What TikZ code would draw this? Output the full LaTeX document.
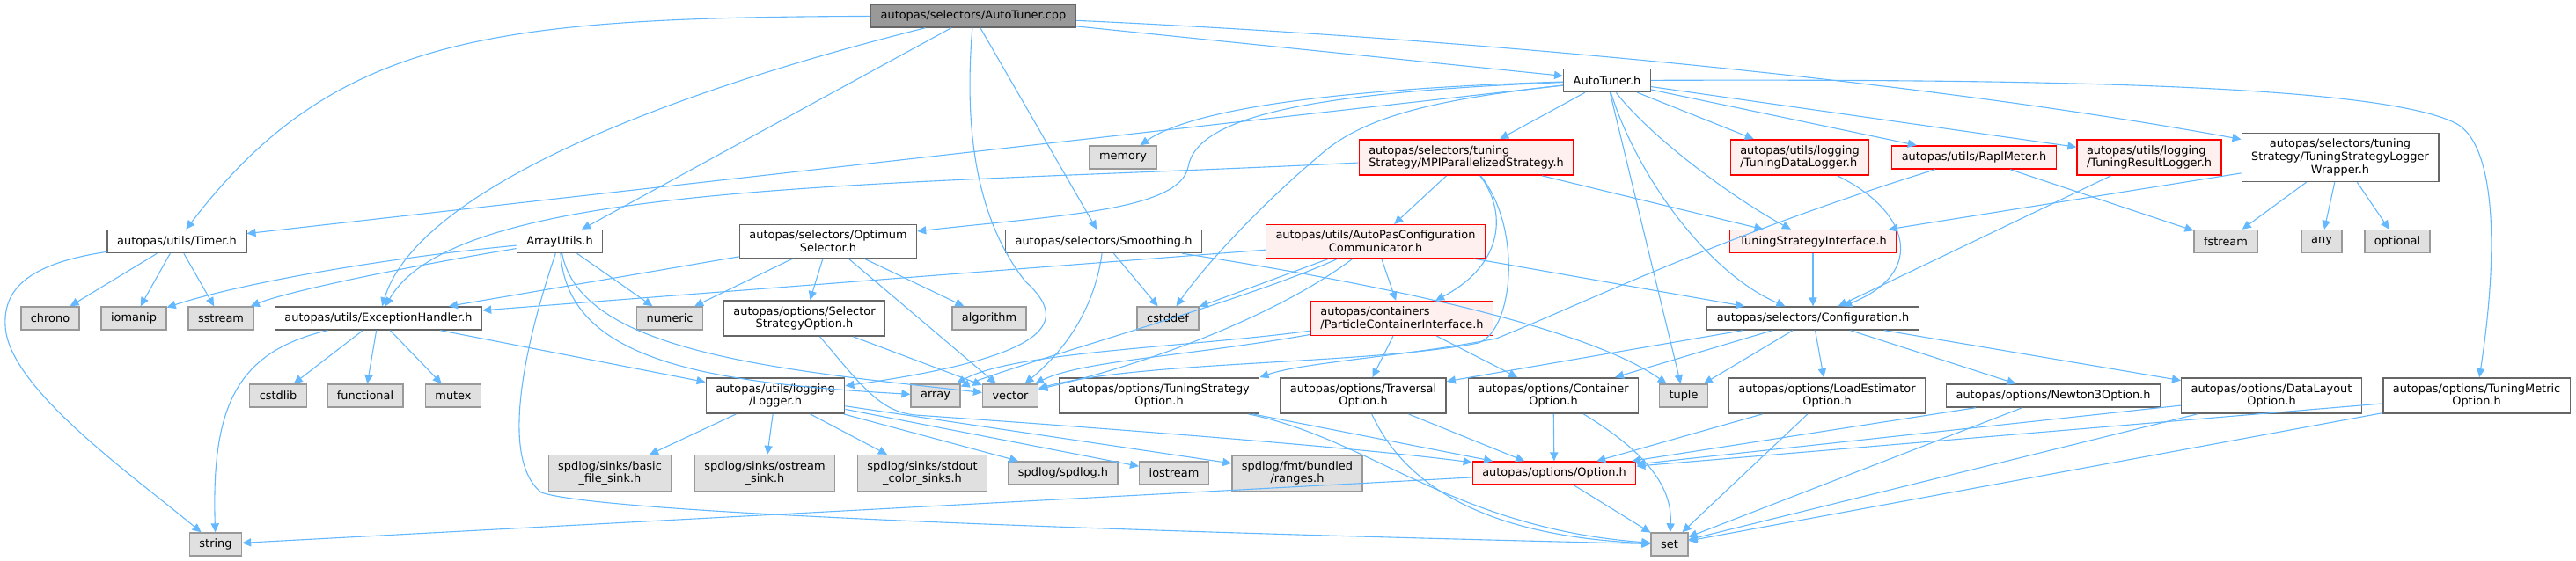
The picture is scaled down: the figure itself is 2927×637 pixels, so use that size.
\documentclass[tikz,border=0pt]{standalone}
\usepackage{fontspec}
\setmainfont{DejaVu Sans}
\usepackage{tikz}
\usetikzlibrary{arrows.meta}
\definecolor{incEdge}{HTML}{63B8FF}
\definecolor{incRoot}{HTML}{999999}
\definecolor{incLine}{HTML}{666666}
\definecolor{incSys}{HTML}{E0E0E0}
\definecolor{incSysLine}{HTML}{999999}
\definecolor{incTrunc}{HTML}{FFF0F0}
\definecolor{incTruncLine}{HTML}{FF0000}
\tikzset{
  hdr/.style={
    draw=incLine, fill=white, line width=0.7pt, inner xsep=5.5pt, inner ysep=3.3pt,
    minimum height=13pt, align=center, font=\fontsize{6.45pt}{7.35pt}\selectfont
  },
  rootfile/.style={hdr, fill=incRoot},
  syshdr/.style={hdr, fill=incSys, draw=incSysLine},
  trunchdr/.style={hdr, fill=incTrunc, draw=incTruncLine},
  inc/.style={-{Triangle[length=5pt, width=4.6pt]}, incEdge, line width=0.55pt}
}
\begin{document}
\begin{tikzpicture}[x=0.5pt, y=-0.5pt]
  \useasboundingbox (0,0) rectangle (2927,637);
  % top rows
  \node[rootfile] (cpp) at (1106,18) {autopas/selectors/AutoTuner.cpp};
  \node[hdr] (at) at (1826,91.5) {AutoTuner.h};
  \node[syshdr] (memory) at (1276,179) {memory};
  \node[trunchdr, align=left] (mpi) at (1666,179) {autopas/selectors/tuning\\Strategy/MPIParallelizedStrategy.h};
  \node[trunchdr, align=left] (tdl) at (2045,179) {autopas/utils/logging\\/TuningDataLogger.h};
  \node[trunchdr] (rapl) at (2243,179) {autopas/utils/RaplMeter.h};
  \node[trunchdr, align=left] (trl) at (2442,179) {autopas/utils/logging\\/TuningResultLogger.h};
  \node[hdr] (tslw) at (2659,179) {autopas/selectors/tuning\\Strategy/TuningStrategyLogger\\Wrapper.h};
  \node[hdr] (timer) at (201,274.5) {autopas/utils/Timer.h};
  \node[hdr] (arr) at (636,274.5) {ArrayUtils.h};
  \node[hdr] (opt) at (941,274.5) {autopas/selectors/Optimum\\Selector.h};
  \node[hdr] (smooth) at (1254,274.5) {autopas/selectors/Smoothing.h};
  \node[trunchdr] (comm) at (1563,274.5) {autopas/utils/AutoPasConfiguration\\Communicator.h};
  \node[trunchdr] (tsi) at (2060,274.5) {TuningStrategyInterface.h};
  \node[syshdr] (fstream) at (2529,274.5) {fstream};
  \node[syshdr] (any) at (2638,274.5) {any};
  \node[syshdr] (optional) at (2724,274.5) {optional};
  % middle rows
  \node[syshdr] (chrono) at (57,362) {chrono};
  \node[syshdr] (iomanip) at (152,362) {iomanip};
  \node[syshdr] (sstream) at (251,362) {sstream};
  \node[hdr] (exc) at (430,362) {autopas/utils/ExceptionHandler.h};
  \node[syshdr] (numeric) at (761,362) {numeric};
  \node[hdr] (sso) at (914,362) {autopas/options/Selector\\StrategyOption.h};
  \node[syshdr] (algorithm) at (1124,362) {algorithm};
  \node[syshdr] (cstddef) at (1327,362) {cstddef};
  \node[trunchdr, align=left] (pci) at (1593,362) {autopas/containers\\/ParticleContainerInterface.h};
  \node[hdr] (conf) at (2060,362) {autopas/selectors/Configuration.h};
  \node[syshdr] (cstdlib) at (316,450) {cstdlib};
  \node[syshdr] (functional) at (415,450) {functional};
  \node[syshdr] (mutex) at (515,450) {mutex};
  \node[hdr] (logger) at (881,450) {autopas/utils/logging\\/Logger.h};
  \node[syshdr] (array) at (1063,450) {array};
  \node[syshdr] (vector) at (1148,450) {vector};
  \node[hdr] (tso) at (1317,450) {autopas/options/TuningStrategy\\Option.h};
  \node[hdr] (tro) at (1549,450) {autopas/options/Traversal\\Option.h};
  \node[hdr] (co) at (1765,450) {autopas/options/Container\\Option.h};
  \node[syshdr] (tuple) at (1913,450) {tuple};
  \node[hdr] (leo) at (2076,450) {autopas/options/LoadEstimator\\Option.h};
  \node[hdr] (n3o) at (2333,450) {autopas/options/Newton3Option.h};
  \node[hdr] (dlo) at (2581,450) {autopas/options/DataLayout\\Option.h};
  \node[hdr] (tmo) at (2814,450) {autopas/options/TuningMetric\\Option.h};
  % bottom rows
  \node[syshdr] (bfs) at (693,538) {spdlog/sinks/basic\\\_file\_sink.h};
  \node[syshdr] (oss) at (869,538) {spdlog/sinks/ostream\\\_sink.h};
  \node[syshdr] (scs) at (1048,538) {spdlog/sinks/stdout\\\_color\_sinks.h};
  \node[syshdr] (spd) at (1208,538) {spdlog/spdlog.h};
  \node[syshdr] (ios) at (1334,538) {iostream};
  \node[syshdr] (rng) at (1474,538) {spdlog/fmt/bundled\\/ranges.h};
  \node[trunchdr] (opth) at (1766,538) {autopas/options/Option.h};
  \node[syshdr] (string) at (245,619) {string};
  \node[syshdr] (set) at (1897,619) {set};

  % AutoTuner.cpp
  \draw[inc] (cpp) .. controls (560,20) and (380,40) .. (timer);
  \draw[inc] (cpp) .. controls (700,120) and (470,230) .. (exc);
  \draw[inc] (cpp) .. controls (1095,150) and (1110,250) .. (1165,320)
    .. controls (1215,365) and (1200,405) .. (logger);
  \draw[inc] (cpp) .. controls (1700,45) and (2200,95) .. (tslw);
  \foreach \n in {arr,smooth,at}{
    \draw[inc] (cpp) -- (\n);
  }

  % AutoTuner.h
  \draw[inc] (at) .. controls (1550,100) and (1360,120) .. (memory);
  \draw[inc] (at) .. controls (1500,105) and (1360,130) .. (1350,190)
    .. controls (1340,240) and (1200,245) .. (opt);
  \draw[inc] (at) .. controls (1640,112) and (1560,130) .. (1510,168)
    .. controls (1440,225) and (1370,300) .. (cstddef);
  \draw[inc] (at) .. controls (1870,150) and (1960,220) .. (tsi);
  \draw[inc] (at) .. controls (1860,200) and (1940,310) .. (conf);
  \draw[inc] (at) .. controls (2300,90) and (2700,95) .. (2790,140)
    .. controls (2835,163) and (2840,280) .. (tmo);
  \foreach \n in {timer,mpi,tdl,rapl,trl,tuple}{
    \draw[inc] (at) -- (\n);
  }

  % tuning strategies and loggers
  \draw[inc] (mpi) .. controls (1000,212) and (520,205) .. (exc);
  \draw[inc] (mpi) .. controls (1712,240) and (1710,300) .. (pci);
  \draw[inc] (mpi) .. controls (1730,260) and (1720,375) .. (1680,390)
    .. controls (1550,415) and (1300,410) .. (vector);
  \foreach \n in {comm,tsi}{
    \draw[inc] (mpi) -- (\n);
  }
  \draw[inc] (tdl) .. controls (2170,240) and (2190,310) .. (conf);
  \draw[inc] (rapl) .. controls (1950,270) and (1800,345) .. (1700,385)
    .. controls (1600,405) and (1480,412) .. (tso.north east);
  \draw[inc] (rapl) -- (fstream);
  \foreach \n in {tsi,fstream,any,optional}{
    \draw[inc] (tslw) -- (\n);
  }
  \draw[inc] (trl) -- (conf);
  \draw[inc] (tsi) -- (conf);

  % utils
  \draw[inc] (timer) .. controls (30,300) and (4,330) .. (6,370)
    .. controls (8,440) and (150,540) .. (string);
  \foreach \n in {chrono,iomanip,sstream}{
    \draw[inc] (timer) -- (\n);
  }
  \draw[inc] (arr) .. controls (450,292) and (280,320) .. (iomanip);
  \draw[inc] (arr) .. controls (480,300) and (330,330) .. (sstream);
  \draw[inc] (arr) .. controls (645,410) and (800,435) .. (array);
  \draw[inc] (arr) .. controls (660,400) and (880,420) .. (vector);
  \draw[inc] (arr) .. controls (600,380) and (565,520) .. (615,560)
    .. controls (700,590) and (1600,612) .. (set);
  \draw[inc] (arr) -- (numeric);
  \draw[inc] (exc) .. controls (270,400) and (240,460) .. (string);
  \foreach \n in {cstdlib,functional,mutex,logger}{
    \draw[inc] (exc) -- (\n);
  }
  \foreach \n in {bfs,oss,scs,spd,ios,rng}{
    \draw[inc] (logger) -- (\n);
  }

  % selectors
  \foreach \n in {exc,numeric,sso,algorithm,vector}{
    \draw[inc] (opt) -- (\n);
  }
  \draw[inc] (sso) -- (vector);
  \draw[inc] (sso) .. controls (980,440) and (1000,468) .. (1040,472)
    .. controls (1300,490) and (1550,510) .. (opth);
  \draw[inc] (smooth) -- (cstddef);
  \draw[inc] (smooth) .. controls (1245,340) and (1220,390) .. (vector);
  \draw[inc] (smooth) .. controls (1550,320) and (1800,370) .. (tuple);
  \draw[inc] (comm) .. controls (1420,340) and (1200,400) .. (array);
  \draw[inc] (comm) .. controls (1450,360) and (1300,415) .. (vector);
  \foreach \n in {exc,cstddef,pci,conf}{
    \draw[inc] (comm) -- (\n);
  }
  \draw[inc] (pci) .. controls (1350,395) and (1150,400) .. (array);
  \draw[inc] (pci) .. controls (1350,405) and (1230,410) .. (vector);
  \foreach \n in {tro,co}{
    \draw[inc] (pci) -- (\n);
  }
  \foreach \n in {tro,co,tuple,leo,n3o,dlo}{
    \draw[inc] (conf) -- (\n);
  }

  % options
  \foreach \n in {tso,tro,co,leo,n3o,dlo,tmo}{
    \draw[inc] (\n) -- (opth);
  }
  \draw[inc] (tso) .. controls (1560,500) and (1650,600) .. (set);
  \draw[inc] (tro) .. controls (1600,560) and (1700,610) .. (set);
  \draw[inc] (co) .. controls (1880,520) and (1900,560) .. (set);
  \foreach \n in {leo,n3o,dlo,tmo,opth}{
    \draw[inc] (\n) -- (set);
  }
  \draw[inc] (opth) -- (string);
\end{tikzpicture}
\end{document}
